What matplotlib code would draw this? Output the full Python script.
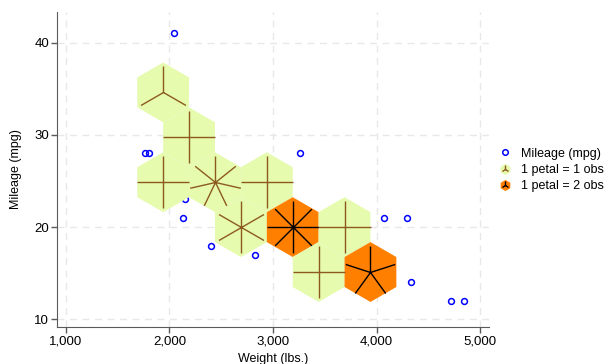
import numpy as np
import matplotlib.pyplot as plt
from matplotlib.path import Path
from matplotlib.patches import Polygon
from matplotlib.lines import Line2D

plt.rcParams['font.family'] = ['Liberation Sans', 'DejaVu Sans']

# observations left as plain points
pt_weight = [2040, 1760, 1800, 2150, 2130, 2400, 2830, 3260, 4070, 4290, 4330, 4720, 4840]
pt_mpg = [41, 28, 28, 23, 21, 18, 17, 28, 21, 21, 14, 12, 12]

# sunflower cells: centre, number of petals, obs per petal
sf_weight = [1940, 2190, 1940, 2440, 2940, 2690, 3190, 3690, 3440, 3940]
sf_mpg = [34.61, 29.74, 24.87, 24.87, 24.87, 20.0, 20.0, 20.0, 15.13, 15.13]
sf_petals = [3, 4, 4, 7, 4, 6, 8, 4, 4, 5]
sf_per_petal = [1, 1, 1, 1, 1, 1, 2, 1, 1, 2]

xticks = [1000, 2000, 3000, 4000, 5000]
yticks = [10, 20, 30, 40]
legend_labels = ['Mileage (mpg)', '1 petal = 1 obs', '1 petal = 2 obs']

half_w = 250     # lbs
hex_r = 3.247    # mpg, centre to top vertex

light, dark = '#e6fbae', '#ff8000'
brown = '#8c5a1e'
blue = '#0000ff'
grid_c = '#e8e8e8'
axis_c = '#5a5a5a'


def petal_marker(n):
    verts, codes = [], []
    for k in range(n):
        a = np.pi / 2 + 2 * np.pi * k / n
        verts += [(0, 0), (np.cos(a), np.sin(a))]
        codes += [Path.MOVETO, Path.LINETO]
    return Path(verts, codes)


def hexagon(cx, cy):
    return [(cx, cy + hex_r), (cx + half_w, cy + hex_r / 2),
            (cx + half_w, cy - hex_r / 2), (cx, cy - hex_r),
            (cx - half_w, cy - hex_r / 2), (cx - half_w, cy + hex_r / 2)]


fig = plt.figure(figsize=(6.1, 3.64), dpi=100)
ax = fig.add_axes([0.094, 0.1025, 0.708, 0.8645])

ax.set_xlim(919, 5086)
ax.set_ylim(9.2, 43.33)

for x in xticks:
    ax.axvline(x, color=grid_c, lw=1, dashes=(5, 4), zorder=0)
for y in yticks:
    ax.axhline(y, color=grid_c, lw=1, dashes=(5, 4), zorder=0)

ax.plot(pt_weight, pt_mpg, ls='none', marker='o', ms=4.2, mfc='none',
        mec=blue, mew=1.1, zorder=2)

for cx, cy, n, per in zip(sf_weight, sf_mpg, sf_petals, sf_per_petal):
    fc = dark if per > 1 else light
    ax.add_patch(Polygon(hexagon(cx, cy), closed=True, fc=fc, ec='none', zorder=3))
    ax.plot([cx], [cy], ls='none', marker=petal_marker(n), ms=37.4,
            mfc='none', mec='black' if per > 1 else brown, mew=1.0, zorder=4)

ax.set_xticks(xticks)
ax.set_xticklabels(['{:,}'.format(x) for x in xticks])
ax.set_yticks(yticks)
ax.tick_params(length=4, width=1, color=axis_c, labelsize=9.5, pad=2)
for side in ['top', 'right']:
    ax.spines[side].set_visible(False)
for side in ['left', 'bottom']:
    ax.spines[side].set_color(axis_c)
ax.set_xlabel('Weight (lbs.)', fontsize=9, labelpad=4)
ax.set_ylabel('Mileage (mpg)', fontsize=9, labelpad=9)

h_pts = Line2D([], [], ls='none', marker='o', ms=4, mfc='none', mec=blue, mew=1.1)
h_one = (Line2D([], [], ls='none', marker='h', ms=8, mfc=light, mec='none'),
         Line2D([], [], ls='none', marker='2', ms=6, mec=brown, mew=1.0))
h_two = (Line2D([], [], ls='none', marker='h', ms=8, mfc=dark, mec='none'),
         Line2D([], [], ls='none', marker='2', ms=6, mec='black', mew=1.0))
fig.legend([h_pts, h_one, h_two], legend_labels, loc='center left',
           bbox_to_anchor=(0.818, 0.533), frameon=False, fontsize=9,
           handlelength=1.0, handletextpad=0.8, labelspacing=0.35,
           borderpad=0, borderaxespad=0)

fig.savefig('out.png', dpi=100)
